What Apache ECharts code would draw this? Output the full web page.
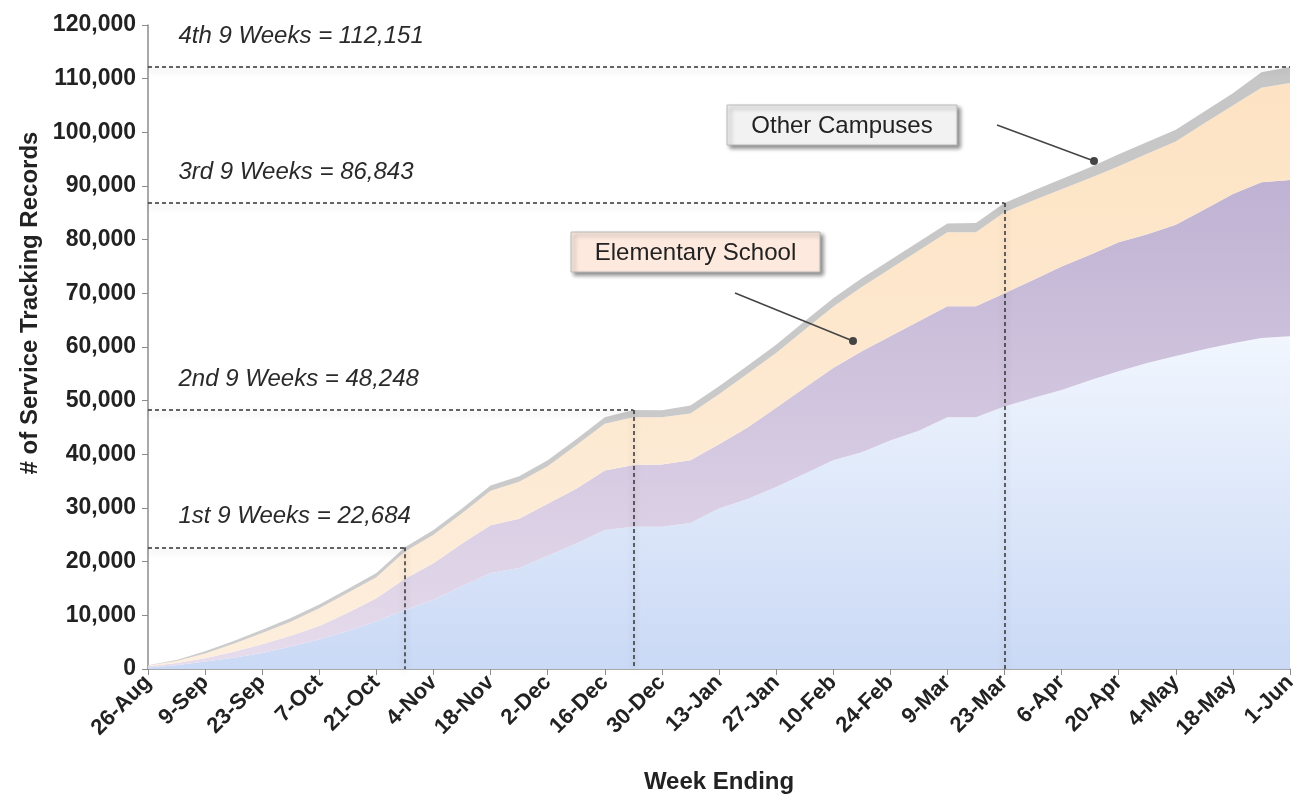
<!DOCTYPE html>
<html>
<head>
<meta charset="utf-8">
<title>Service Tracking Records</title>
<script src="https://cdn.jsdelivr.net/npm/echarts@6/dist/echarts.min.js"></script>
<style>
  html, body { margin: 0; padding: 0; background: #fff; }
  #chart { width: 1301px; height: 799px; }
</style>
</head>
<body>
<div id="chart"></div>
<script>
// week ending dates (weekly, labels shown every other week)
const weeks = [
  '26-Aug', '2-Sep', '9-Sep', '16-Sep', '23-Sep', '30-Sep', '7-Oct', '14-Oct', '21-Oct', '28-Oct',
  '4-Nov', '11-Nov', '18-Nov', '25-Nov', '2-Dec', '9-Dec', '16-Dec', '23-Dec', '30-Dec', '6-Jan',
  '13-Jan', '20-Jan', '27-Jan', '3-Feb', '10-Feb', '17-Feb', '24-Feb', '2-Mar', '9-Mar', '16-Mar',
  '23-Mar', '30-Mar', '6-Apr', '13-Apr', '20-Apr', '27-Apr', '4-May', '11-May', '18-May', '25-May',
  '1-Jun'
];

// cumulative records per campus group
const middleSchool = [
  300, 700, 1400, 2100, 3000, 4200, 5500, 7100, 8900, 11000,
  12900, 15400, 17900, 18800, 21100, 23400, 25900, 26500, 26500, 27200,
  29900, 31700, 33900, 36400, 38900, 40400, 42600, 44400, 46900, 46900,
  48900, 50500, 52000, 53800, 55500, 57000, 58300, 59600, 60700, 61700,
  62000
];
const highSchool = [
  200, 400, 600, 1100, 1600, 2000, 2500, 3400, 4300, 5800,
  6800, 8000, 8900, 9200, 9700, 10200, 11100, 11500, 11600, 11700,
  12000, 13300, 14800, 16000, 17200, 18800, 19400, 20400, 20700, 20700,
  21100, 22000, 23000, 23400, 24000, 24000, 24500, 26000, 27800, 29000,
  29100
];
const elementarySchool = [
  150, 400, 900, 1500, 2100, 2600, 3300, 3700, 3900, 5100,
  5300, 5600, 6400, 6900, 7000, 8100, 8700, 8900, 8800, 8700,
  9300, 10000, 10200, 10800, 11400, 12000, 12600, 13200, 13800, 13800,
  15100, 14800, 14400, 14300, 14200, 15000, 15500, 16100, 16500, 17600,
  18100
];
const otherCampuses = [
  50, 200, 400, 500, 600, 700, 700, 700, 800, 784,
  900, 900, 1000, 1000, 1100, 1100, 1200, 1348, 1300, 1500,
  1500, 1500, 1500, 1600, 1600, 1600, 1600, 1600, 1600, 1700,
  1743, 1800, 1900, 2000, 2200, 2200, 2200, 2200, 2300, 2900,
  2951
];

// end of each 9-week grading period
const quarterNames = ['1st 9 Weeks', '2nd 9 Weeks', '3rd 9 Weeks', '4th 9 Weeks'];
const quarterWeeks = ['28-Oct', '23-Dec', '23-Mar', '1-Jun'];
const quarterTotals = [22684, 48248, 86843, 112151];

const FONT = 'Liberation Sans, Arial, sans-serif';

function fmt(v) {
  return String(v).replace(/\B(?=(\d{3})+(?!\d))/g, ',');
}

function grad(top, bottom) {
  return new echarts.graphic.LinearGradient(0, 0, 0, 1, [
    { offset: 0, color: top },
    { offset: 1, color: bottom }
  ]);
}

const dashStyle = {
  color: '#333',
  type: [4, 3],
  width: 1.5,
  shadowBlur: 6,
  shadowColor: 'rgba(0,0,0,0.25)',
  shadowOffsetY: 3
};

// dashed guide lines: across from the y axis, then down to the x axis
const guideLines = [];
quarterWeeks.forEach((wk, i) => {
  guideLines.push([{ coord: [weeks[0], quarterTotals[i]] }, { coord: [wk, quarterTotals[i]] }]);
  if (wk !== weeks[weeks.length - 1]) {
    guideLines.push([{ coord: [wk, quarterTotals[i]] }, { coord: [wk, 0] }]);
  }
});

const guideLabels = quarterNames.map((name, i) => ({
  coord: [weeks[0], quarterTotals[i]],
  label: { formatter: name + ' = ' + fmt(quarterTotals[i]) }
}));

function areaSeries(name, data, top, bottom) {
  return {
    name: name,
    type: 'line',
    stack: 'total',
    data: data,
    symbol: 'none',
    silent: true,
    lineStyle: { opacity: 0 },
    areaStyle: { color: grad(top, bottom), opacity: 1 }
  };
}

const chart = echarts.init(document.getElementById('chart'));

const option = {
  animation: false,
  textStyle: { fontFamily: FONT },
  grid: { left: 148, right: 11, top: 25, bottom: 126 },
  xAxis: {
    type: 'category',
    data: weeks,
    boundaryGap: false,
    name: 'Week Ending',
    nameLocation: 'middle',
    nameGap: 101,
    nameTextStyle: { fontSize: 24, fontWeight: 'bold', color: '#222', fontFamily: FONT },
    axisLine: { lineStyle: { color: '#8c8c8c', width: 1.5 } },
    axisTick: { interval: 1, length: 6, lineStyle: { color: '#8c8c8c' } },
    axisLabel: {
      interval: 1,
      rotate: 45,
      margin: 10,
      fontSize: 22,
      fontWeight: 'bold',
      color: '#222',
      fontFamily: FONT
    },
    splitLine: { show: false }
  },
  yAxis: {
    type: 'value',
    min: 0,
    max: 120000,
    interval: 10000,
    name: '# of Service Tracking Records',
    nameLocation: 'middle',
    nameGap: 106,
    nameTextStyle: {
      fontSize: 24, fontWeight: 'bold', color: '#222', fontFamily: FONT,
      padding: [0, 0, 0, 88]
    },
    axisLine: { show: true, lineStyle: { color: '#8c8c8c', width: 1.5 } },
    axisTick: { show: true, length: 6, lineStyle: { color: '#8c8c8c' } },
    axisLabel: {
      fontSize: 23,
      fontWeight: 'bold',
      color: '#222',
      margin: 12,
      fontFamily: FONT,
      formatter: fmt
    },
    splitLine: { show: false }
  },
  series: [
    areaSeries('Middle School', middleSchool, '#f1f6fe', '#cad9f5'),
    areaSeries('High School', highSchool, '#bfb2d3', '#e6dcec'),
    areaSeries('Elementary School', elementarySchool, '#fde3c3', '#fdeedd'),
    areaSeries('Other Campuses', otherCampuses, '#c6c6c6', '#cccccc'),
    {
      name: 'guides',
      type: 'line',
      data: [],
      silent: true,
      markLine: {
        silent: true,
        symbol: ['none', 'none'],
        label: { show: false },
        lineStyle: dashStyle,
        data: guideLines
      },
      markPoint: {
        silent: true,
        symbol: 'circle',
        symbolSize: 1,
        itemStyle: { color: 'rgba(0,0,0,0)' },
        label: {
          show: true,
          position: 'right',
          distance: 30,
          offset: [0, -31],
          fontStyle: 'italic',
          fontSize: 24,
          color: '#2a2a2a',
          fontFamily: FONT
        },
        data: guideLabels
      }
    }
  ],
  graphic: [
    // callout boxes
    ...[
      { text: 'Other Campuses', x: 727, y: 105, w: 230, h: 40, fill: '#f2f2f2' },
      { text: 'Elementary School', x: 571, y: 232, w: 249, h: 40, fill: '#fde9de' },
      { text: 'High School', x: 1051, y: 281, w: 184, h: 39, fill: '#e7e1ef' },
      { text: 'Middle School', x: 1056, y: 512, w: 184, h: 38, fill: '#dde6f3' }
    ].map(b => ({
      type: 'group',
      z: 100,
      children: [
        {
          type: 'rect',
          shape: { x: b.x, y: b.y, width: b.w, height: b.h },
          style: {
            fill: b.fill, stroke: '#b8b8b8', lineWidth: 1,
            shadowBlur: 4, shadowOffsetX: 3, shadowOffsetY: 3, shadowColor: 'rgba(0,0,0,0.45)'
          }
        },
        {
          type: 'text',
          x: b.x + b.w / 2,
          y: b.y + b.h / 2 + 1,
          style: {
            text: b.text, fontSize: 24, fontFamily: FONT, fill: '#222',
            align: 'center', verticalAlign: 'middle'
          }
        }
      ]
    })),
    // leader lines
    { type: 'line', z: 100, shape: { x1: 735, y1: 293, x2: 853, y2: 341 }, style: { stroke: '#444', lineWidth: 1.5 } },
    { type: 'circle', z: 100, shape: { cx: 853, cy: 341, r: 4 }, style: { fill: '#444' } },
    { type: 'line', z: 100, shape: { x1: 997, y1: 125, x2: 1094, y2: 161 }, style: { stroke: '#444', lineWidth: 1.5 } },
    { type: 'circle', z: 100, shape: { cx: 1094, cy: 161, r: 4 }, style: { fill: '#444' } }
  ]
};

chart.setOption(option);
</script>
</body>
</html>
